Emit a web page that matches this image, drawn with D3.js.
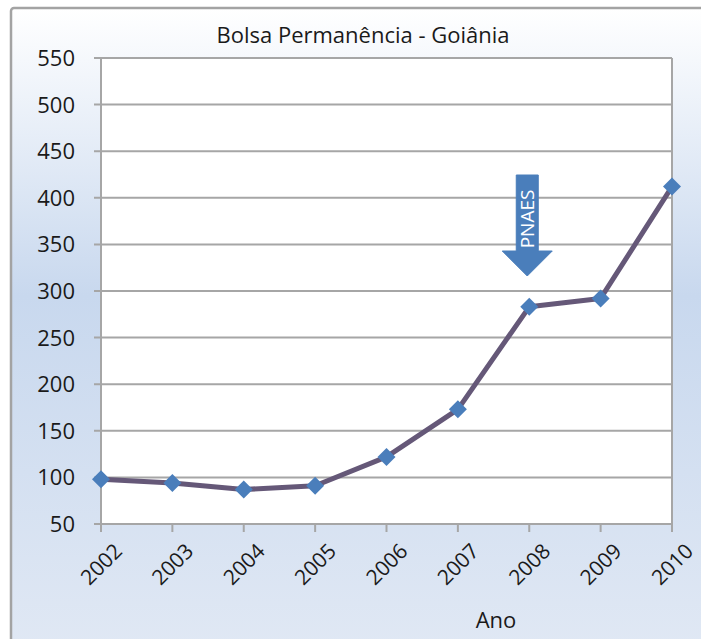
<!DOCTYPE html>
<html><head><meta charset="utf-8">
<script src="https://cdn.jsdelivr.net/npm/d3@7"></script>
<style>body{margin:0;background:#fff}svg{display:block}text{font-family:"Open Sans","Noto Sans",sans-serif;fill:#1a1a1a}</style>
</head><body>
<script>
const years = ["2002","2003","2004","2005","2006","2007","2008","2009","2010"];
const values = [98, 94, 87, 91, 122, 173, 283, 292, 412];
const yTicks = [50,100,150,200,250,300,350,400,450,500,550];
const title = "Bolsa Permanência - Goiânia";
const xTitle = "Ano";
const annotation = {year:"2008", label:"PNAES"};

const W=701,H=639;
const svg=d3.select("body").append("svg").attr("width",W).attr("height",H);
const defs=svg.append("defs");
const g=defs.append("linearGradient").attr("id","bg").attr("x1",0).attr("y1",0).attr("x2",0).attr("y2",1);
g.append("stop").attr("offset","0%").attr("stop-color","#ffffff");
g.append("stop").attr("offset","45%").attr("stop-color","#c8d8ee");
g.append("stop").attr("offset","100%").attr("stop-color","#e0e8f4");
svg.append("rect").attr("x",11).attr("y",8).attr("width",W).attr("height",H).attr("rx",3)
  .attr("fill","url(#bg)").attr("stroke","#a3a3a3").attr("stroke-width",2.5);

const L=101,R=672,T=58,B=524;
const x=d3.scalePoint().domain(years).range([L,R]);
const y=d3.scaleLinear().domain([50,550]).range([B,T]);
svg.append("rect").attr("x",L).attr("y",T).attr("width",R-L).attr("height",B-T).attr("fill","#fff");

// gridlines
svg.append("g").selectAll("line").data(yTicks).join("line")
  .attr("x1",L-7).attr("x2",R).attr("y1",d=>y(d)).attr("y2",d=>y(d))
  .attr("stroke","#a6a6a6").attr("stroke-width",2);
svg.append("line").attr("x1",R).attr("x2",R).attr("y1",T).attr("y2",B+8).attr("stroke","#a6a6a6").attr("stroke-width",2);
svg.append("line").attr("x1",L).attr("x2",L).attr("y1",T).attr("y2",B+8).attr("stroke","#a6a6a6").attr("stroke-width",2);

// y axis labels
svg.append("g").selectAll("text").data(yTicks).join("text")
  .attr("x",L-26).attr("y",d=>y(d)).attr("dy","0.36em").attr("text-anchor","end")
  .attr("font-size",22).text(d=>d);

// x axis ticks
svg.append("g").selectAll("line").data(years).join("line")
  .attr("x1",d=>x(d)).attr("x2",d=>x(d)).attr("y1",B).attr("y2",B+8)
  .attr("stroke","#a6a6a6").attr("stroke-width",2);
svg.append("g").selectAll("text").data(years).join("text")
  .attr("transform",d=>`translate(${x(d)+12},${B+18}) rotate(-45)`)
  .attr("text-anchor","end").attr("dy","0.7em").attr("font-size",21).text(d=>d);

svg.append("text").attr("x",363).attr("y",43).attr("text-anchor","middle").attr("font-size",22).text(title);
svg.append("text").attr("x",496).attr("y",628).attr("text-anchor","middle").attr("font-size",22).text(xTitle);

// line
const data=years.map((yr,i)=>({yr,v:values[i]}));
svg.append("path").datum(data)
  .attr("d",d3.line().x(d=>x(d.yr)).y(d=>y(d.v)))
  .attr("fill","none").attr("stroke","#655878").attr("stroke-width",5).attr("stroke-linejoin","round");
const dm=9;
svg.append("g").selectAll("path").data(data).join("path")
  .attr("d",`M0,${-dm}L${dm},0L0,${dm}L${-dm},0Z`)
  .attr("transform",d=>`translate(${x(d.yr)},${y(d.v)})`)
  .attr("fill","#4a7ebb");

// arrow
const ax=x(annotation.year)-2;
const arrow=`M${ax-11},175 L${ax+11},175 L${ax+11},251 L${ax+25},251 L${ax},276 L${ax-25},251 L${ax-11},251 Z`;
svg.append("path").attr("d",arrow).attr("fill","#4a7ebb").attr("stroke","#4a7ebb");
svg.append("text").attr("transform",`translate(${ax},219) rotate(-90)`).attr("text-anchor","middle")
  .attr("dy","0.36em").attr("font-size",19).style("fill","#fff").text(annotation.label);
</script>
</body></html>
